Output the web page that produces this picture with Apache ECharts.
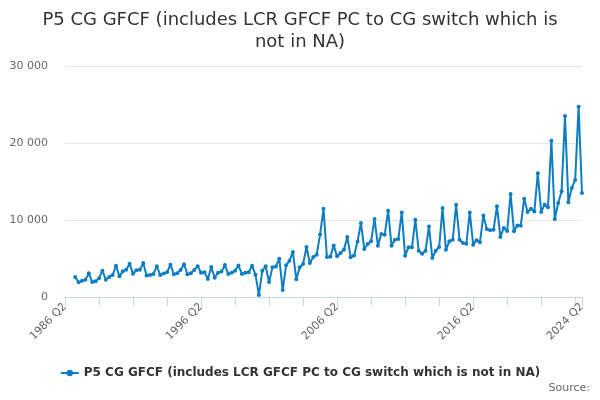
<!DOCTYPE html>
<html>
<head>
<meta charset="utf-8">
<script src="https://cdn.jsdelivr.net/npm/echarts@6/dist/echarts.min.js"></script>
<style>
  html, body { margin: 0; padding: 0; background: #fff; }
  #box1 { width: 600px; height: 400px; }
</style>
</head>
<body>
<div id="box1"></div>
<script>
// ▼ data (quarterly, £m)
const sTitle = 'P5 CG GFCF (includes LCR GFCF PC to CG switch which is\nnot in NA)';
const sSeriesName = 'P5 CG GFCF (includes LCR GFCF PC to CG switch which is not in NA)';
const iFirstYear = 1986; // axis starts at 1986 Q2
const iLastYear = 2024;  // axis ends at 2024 Q2
const aShownLabels = ['1986 Q2', '1996 Q2', '2006 Q2', '2016 Q2', '2024 Q2'];
const aYTicks = [0, 10000, 20000, 30000];

// 1986 Q2 .. 2024 Q2, no values before 1987 Q1
const aValues = [
    null, null, null,
    2600, 1900, 2100, 2250,      // 1987
    3070, 1950, 2030, 2420,      // 1988
    3420, 2250, 2600, 2860,      // 1989
    4070, 2680, 3330, 3550,      // 1990
    4330, 3030, 3460, 3550,      // 1991
    4400, 2800, 2850, 3000,      // 1992
    4000, 2850, 3050, 3200,      // 1993
    4200, 2950, 3100, 3500,      // 1994
    4250, 2950, 3100, 3500,      // 1995
    4000, 3150, 3200, 2350,      // 1996
    3900, 2500, 3150, 3300,      // 1997
    4150, 3000, 3150, 3400,      // 1998
    4100, 3000, 3150, 3200,      // 1999
    4050, 2900, 250, 3400,       // 2000
    4000, 1950, 3850, 3950,      // 2001
    4980, 910, 4110, 4720,       // 2002
    5850, 2290, 3850, 4290,      // 2003
    6500, 4420, 5200, 5500,      // 2004
    8130, 11470, 5200, 5240,     // 2005
    6700, 5280, 5720, 6150,      // 2006
    7800, 5150, 5400, 7200,      // 2007
    9610, 6240, 6890, 7230,      // 2008
    10130, 6670, 8180, 8100,     // 2009
    11210, 6670, 7450, 7530,     // 2010
    10990, 5370, 6450, 6450,     // 2011
    10040, 6000, 5630, 6010,     // 2012
    9170, 5070, 6010, 6480,      // 2013
    11560, 6140, 7230, 7440,     // 2014
    11990, 7440, 7010, 6930,     // 2015
    10990, 6800, 7360, 7100,     // 2016
    10600, 8830, 8660, 8740,     // 2017
    11770, 7800, 8960, 8570,     // 2018
    13380, 8530, 9300, 9260,     // 2019
    12770, 11040, 11470, 11120,  // 2020
    16060, 11040, 11990, 11640,  // 2021
    20300, 10130, 12210, 13720,  // 2022
    23510, 12290, 14160, 15200,  // 2023
    24720, 13510                 // 2024
];

// ▼ category labels, 1986 Q2 .. 2024 Q2
const aQuarters = [];
for (let y = iFirstYear; y <= iLastYear; y++) {
    for (let q = 1; q <= 4; q++) {
        if (y === iFirstYear && q < 2) continue;
        if (y === iLastYear && q > 2) continue;
        aQuarters.push(`${y} Q${q}`);
    }
}

const sFont = 'DejaVu Sans';
const sBlue = '#0f7dc2';

const myChart = echarts.init(document.getElementById('box1'), null, { renderer: 'canvas' });
const option = {
    animation: false,
    title: {
        text: sTitle,
        left: 'center',
        top: 4,
        textStyle: { fontFamily: sFont, fontSize: 18, fontWeight: 'normal', color: '#333', lineHeight: 22 },
    },
    legend: {
        bottom: 16,
        left: 'center',
        itemWidth: 18,
        itemHeight: 8,
        itemGap: 6,
        textStyle: { fontFamily: sFont, fontSize: 12, fontWeight: 'bold', color: '#333' },
        data: [sSeriesName],
    },
    graphic: [{
        type: 'text',
        right: 10,
        top: 383,
        style: { text: 'Source:', fill: '#666', font: `11px "${sFont}"` },
    }],
    grid: {
        left: 65,
        right: 18,
        top: 66,
        bottom: 103,
        containLabel: false,
    },
    xAxis: {
        type: 'category',
        boundaryGap: false,
        data: aQuarters,
        axisLine: { lineStyle: { color: '#ccd6eb' } },
        axisTick: {
            length: 9,
            lineStyle: { color: '#ccd6eb' },
            interval: (i) => i % 10 === 0 || i === aQuarters.length - 1,
        },
        axisLabel: {
            rotate: 45,
            fontFamily: sFont,
            fontSize: 11,
            color: '#666',
            margin: 8,
            interval: (i, sVal) => aShownLabels.includes(sVal),
        },
        splitLine: { show: false },
    },
    yAxis: {
        type: 'value',
        min: aYTicks[0],
        max: aYTicks[aYTicks.length - 1],
        interval: aYTicks[1] - aYTicks[0],
        axisLine: { show: false },
        axisTick: { show: false },
        axisLabel: {
            fontFamily: sFont,
            fontSize: 11,
            color: '#666',
            margin: 17,
            formatter: (v) => String(v).replace(/\B(?=(\d{3})+(?!\d))/g, ' '),
        },
        splitLine: { lineStyle: { color: '#e6e6e6' } },
    },
    series: [{
        name: sSeriesName,
        type: 'line',
        data: aValues,
        symbol: 'circle',
        symbolSize: 4,
        showSymbol: true,
        showAllSymbol: true,
        connectNulls: false,
        itemStyle: { color: sBlue },
        lineStyle: { color: sBlue, width: 2 },
    }],
};
myChart.setOption(option);
</script>
</body>
</html>
